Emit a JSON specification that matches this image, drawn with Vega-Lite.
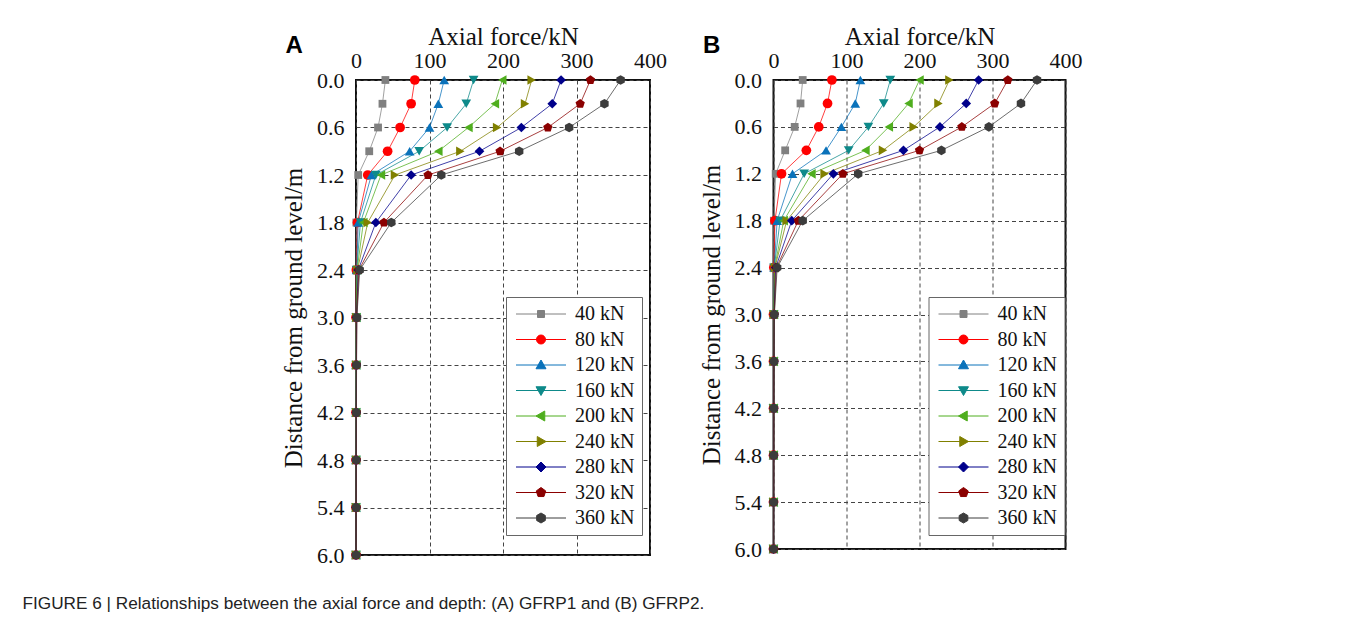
{
  "$schema": "https://vega.github.io/schema/vega-lite/v6.json",
  "padding": {"left": 22, "top": 23, "right": 0, "bottom": 0},
  "background": "white",
  "config": {
    "view": {"stroke": "#111", "strokeWidth": 2},
    "axis": {"labelFont": "Liberation Serif", "titleFont": "Liberation Serif", "labelFontSize": 22, "titleFontSize": 25, "titleFontWeight": "normal", "labelColor": "#111", "titleColor": "#111", "grid": true, "gridDash": [4, 3], "gridColor": "#444", "gridWidth": 1, "gridOpacity": 1, "domain": false, "ticks": false},
    "legend": {"labelFont": "Liberation Serif", "labelFontSize": 20, "labelColor": "#111"}
  },
  "title": {"text": "FIGURE 6 | Relationships between the axial force and depth: (A) GFRP1 and (B) GFRP2.", "orient": "bottom", "anchor": "start", "frame": "bounds", "dx": -258, "offset": 28, "font": "Liberation Sans", "fontSize": 17.2, "fontWeight": "normal", "color": "#222"},
  "data": {"values": [
    {"p":"A","s":"40 kN","d":0,"f":40},{"p":"A","s":"40 kN","d":0.3,"f":36},{"p":"A","s":"40 kN","d":0.6,"f":30},{"p":"A","s":"40 kN","d":0.9,"f":18},{"p":"A","s":"40 kN","d":1.2,"f":3},{"p":"A","s":"40 kN","d":1.8,"f":0.5},{"p":"A","s":"40 kN","d":2.4,"f":0},{"p":"A","s":"40 kN","d":3.0,"f":0},{"p":"A","s":"40 kN","d":3.6,"f":0},{"p":"A","s":"40 kN","d":4.2,"f":0},{"p":"A","s":"40 kN","d":4.8,"f":0},{"p":"A","s":"40 kN","d":5.4,"f":0},{"p":"A","s":"40 kN","d":6.0,"f":0},
    {"p":"A","s":"80 kN","d":0,"f":80},{"p":"A","s":"80 kN","d":0.3,"f":75},{"p":"A","s":"80 kN","d":0.6,"f":60},{"p":"A","s":"80 kN","d":0.9,"f":43},{"p":"A","s":"80 kN","d":1.2,"f":16},{"p":"A","s":"80 kN","d":1.8,"f":2},{"p":"A","s":"80 kN","d":2.4,"f":0.5},{"p":"A","s":"80 kN","d":3.0,"f":0},{"p":"A","s":"80 kN","d":3.6,"f":0},{"p":"A","s":"80 kN","d":4.2,"f":0},{"p":"A","s":"80 kN","d":4.8,"f":0},{"p":"A","s":"80 kN","d":5.4,"f":0},{"p":"A","s":"80 kN","d":6.0,"f":0},
    {"p":"A","s":"120 kN","d":0,"f":120},{"p":"A","s":"120 kN","d":0.3,"f":112},{"p":"A","s":"120 kN","d":0.6,"f":100},{"p":"A","s":"120 kN","d":0.9,"f":73},{"p":"A","s":"120 kN","d":1.2,"f":21},{"p":"A","s":"120 kN","d":1.8,"f":3},{"p":"A","s":"120 kN","d":2.4,"f":1},{"p":"A","s":"120 kN","d":3.0,"f":0.3},{"p":"A","s":"120 kN","d":3.6,"f":0},{"p":"A","s":"120 kN","d":4.2,"f":0},{"p":"A","s":"120 kN","d":4.8,"f":0},{"p":"A","s":"120 kN","d":5.4,"f":0},{"p":"A","s":"120 kN","d":6.0,"f":0},
    {"p":"A","s":"160 kN","d":0,"f":160},{"p":"A","s":"160 kN","d":0.3,"f":150},{"p":"A","s":"160 kN","d":0.6,"f":124},{"p":"A","s":"160 kN","d":0.9,"f":86},{"p":"A","s":"160 kN","d":1.2,"f":27},{"p":"A","s":"160 kN","d":1.8,"f":6},{"p":"A","s":"160 kN","d":2.4,"f":1},{"p":"A","s":"160 kN","d":3.0,"f":0.3},{"p":"A","s":"160 kN","d":3.6,"f":0.2},{"p":"A","s":"160 kN","d":4.2,"f":0},{"p":"A","s":"160 kN","d":4.8,"f":0},{"p":"A","s":"160 kN","d":5.4,"f":0},{"p":"A","s":"160 kN","d":6.0,"f":0},
    {"p":"A","s":"200 kN","d":0,"f":199},{"p":"A","s":"200 kN","d":0.3,"f":189},{"p":"A","s":"200 kN","d":0.6,"f":153},{"p":"A","s":"200 kN","d":0.9,"f":112},{"p":"A","s":"200 kN","d":1.2,"f":34},{"p":"A","s":"200 kN","d":1.8,"f":10},{"p":"A","s":"200 kN","d":2.4,"f":1.5},{"p":"A","s":"200 kN","d":3.0,"f":0.5},{"p":"A","s":"200 kN","d":3.6,"f":0.3},{"p":"A","s":"200 kN","d":4.2,"f":0.2},{"p":"A","s":"200 kN","d":4.8,"f":0},{"p":"A","s":"200 kN","d":5.4,"f":0},{"p":"A","s":"200 kN","d":6.0,"f":0},
    {"p":"A","s":"240 kN","d":0,"f":239},{"p":"A","s":"240 kN","d":0.3,"f":230},{"p":"A","s":"240 kN","d":0.6,"f":192},{"p":"A","s":"240 kN","d":0.9,"f":142},{"p":"A","s":"240 kN","d":1.2,"f":53},{"p":"A","s":"240 kN","d":1.8,"f":16},{"p":"A","s":"240 kN","d":2.4,"f":2},{"p":"A","s":"240 kN","d":3.0,"f":0.5},{"p":"A","s":"240 kN","d":3.6,"f":0.3},{"p":"A","s":"240 kN","d":4.2,"f":0.2},{"p":"A","s":"240 kN","d":4.8,"f":0.2},{"p":"A","s":"240 kN","d":5.4,"f":0},{"p":"A","s":"240 kN","d":6.0,"f":0},
    {"p":"A","s":"280 kN","d":0,"f":279},{"p":"A","s":"280 kN","d":0.3,"f":267},{"p":"A","s":"280 kN","d":0.6,"f":225},{"p":"A","s":"280 kN","d":0.9,"f":168},{"p":"A","s":"280 kN","d":1.2,"f":75},{"p":"A","s":"280 kN","d":1.8,"f":27},{"p":"A","s":"280 kN","d":2.4,"f":3},{"p":"A","s":"280 kN","d":3.0,"f":0.8},{"p":"A","s":"280 kN","d":3.6,"f":0.5},{"p":"A","s":"280 kN","d":4.2,"f":0.3},{"p":"A","s":"280 kN","d":4.8,"f":0.2},{"p":"A","s":"280 kN","d":5.4,"f":0.1},{"p":"A","s":"280 kN","d":6.0,"f":0},
    {"p":"A","s":"320 kN","d":0,"f":319},{"p":"A","s":"320 kN","d":0.3,"f":305},{"p":"A","s":"320 kN","d":0.6,"f":261},{"p":"A","s":"320 kN","d":0.9,"f":196},{"p":"A","s":"320 kN","d":1.2,"f":98},{"p":"A","s":"320 kN","d":1.8,"f":38},{"p":"A","s":"320 kN","d":2.4,"f":4},{"p":"A","s":"320 kN","d":3.0,"f":1},{"p":"A","s":"320 kN","d":3.6,"f":0.6},{"p":"A","s":"320 kN","d":4.2,"f":0.4},{"p":"A","s":"320 kN","d":4.8,"f":0.3},{"p":"A","s":"320 kN","d":5.4,"f":0.2},{"p":"A","s":"320 kN","d":6.0,"f":0.1},
    {"p":"A","s":"360 kN","d":0,"f":360},{"p":"A","s":"360 kN","d":0.3,"f":338},{"p":"A","s":"360 kN","d":0.6,"f":290},{"p":"A","s":"360 kN","d":0.9,"f":222},{"p":"A","s":"360 kN","d":1.2,"f":116},{"p":"A","s":"360 kN","d":1.8,"f":48},{"p":"A","s":"360 kN","d":2.4,"f":5},{"p":"A","s":"360 kN","d":3.0,"f":1.2},{"p":"A","s":"360 kN","d":3.6,"f":0.8},{"p":"A","s":"360 kN","d":4.2,"f":0.5},{"p":"A","s":"360 kN","d":4.8,"f":0.3},{"p":"A","s":"360 kN","d":5.4,"f":0.2},{"p":"A","s":"360 kN","d":6.0,"f":0.1},
    {"p":"B","s":"40 kN","d":0,"f":40},{"p":"B","s":"40 kN","d":0.3,"f":37},{"p":"B","s":"40 kN","d":0.6,"f":29},{"p":"B","s":"40 kN","d":0.9,"f":16},{"p":"B","s":"40 kN","d":1.2,"f":3},{"p":"B","s":"40 kN","d":1.8,"f":0.5},{"p":"B","s":"40 kN","d":2.4,"f":0},{"p":"B","s":"40 kN","d":3.0,"f":0},{"p":"B","s":"40 kN","d":3.6,"f":0},{"p":"B","s":"40 kN","d":4.2,"f":0},{"p":"B","s":"40 kN","d":4.8,"f":0},{"p":"B","s":"40 kN","d":5.4,"f":0},{"p":"B","s":"40 kN","d":6.0,"f":0},
    {"p":"B","s":"80 kN","d":0,"f":80},{"p":"B","s":"80 kN","d":0.3,"f":74},{"p":"B","s":"80 kN","d":0.6,"f":62},{"p":"B","s":"80 kN","d":0.9,"f":45},{"p":"B","s":"80 kN","d":1.2,"f":11},{"p":"B","s":"80 kN","d":1.8,"f":2},{"p":"B","s":"80 kN","d":2.4,"f":0.5},{"p":"B","s":"80 kN","d":3.0,"f":0},{"p":"B","s":"80 kN","d":3.6,"f":0},{"p":"B","s":"80 kN","d":4.2,"f":0},{"p":"B","s":"80 kN","d":4.8,"f":0},{"p":"B","s":"80 kN","d":5.4,"f":0},{"p":"B","s":"80 kN","d":6.0,"f":0},
    {"p":"B","s":"120 kN","d":0,"f":119},{"p":"B","s":"120 kN","d":0.3,"f":112},{"p":"B","s":"120 kN","d":0.6,"f":93},{"p":"B","s":"120 kN","d":0.9,"f":72},{"p":"B","s":"120 kN","d":1.2,"f":26},{"p":"B","s":"120 kN","d":1.8,"f":5},{"p":"B","s":"120 kN","d":2.4,"f":1},{"p":"B","s":"120 kN","d":3.0,"f":0.3},{"p":"B","s":"120 kN","d":3.6,"f":0},{"p":"B","s":"120 kN","d":4.2,"f":0},{"p":"B","s":"120 kN","d":4.8,"f":0},{"p":"B","s":"120 kN","d":5.4,"f":0},{"p":"B","s":"120 kN","d":6.0,"f":0},
    {"p":"B","s":"160 kN","d":0,"f":160},{"p":"B","s":"160 kN","d":0.3,"f":151},{"p":"B","s":"160 kN","d":0.6,"f":130},{"p":"B","s":"160 kN","d":0.9,"f":103},{"p":"B","s":"160 kN","d":1.2,"f":42},{"p":"B","s":"160 kN","d":1.8,"f":9},{"p":"B","s":"160 kN","d":2.4,"f":1},{"p":"B","s":"160 kN","d":3.0,"f":0.3},{"p":"B","s":"160 kN","d":3.6,"f":0.2},{"p":"B","s":"160 kN","d":4.2,"f":0},{"p":"B","s":"160 kN","d":4.8,"f":0},{"p":"B","s":"160 kN","d":5.4,"f":0},{"p":"B","s":"160 kN","d":6.0,"f":0},
    {"p":"B","s":"200 kN","d":0,"f":200},{"p":"B","s":"200 kN","d":0.3,"f":185},{"p":"B","s":"200 kN","d":0.6,"f":158},{"p":"B","s":"200 kN","d":0.9,"f":126},{"p":"B","s":"200 kN","d":1.2,"f":52},{"p":"B","s":"200 kN","d":1.8,"f":14},{"p":"B","s":"200 kN","d":2.4,"f":1.5},{"p":"B","s":"200 kN","d":3.0,"f":0.5},{"p":"B","s":"200 kN","d":3.6,"f":0.3},{"p":"B","s":"200 kN","d":4.2,"f":0.2},{"p":"B","s":"200 kN","d":4.8,"f":0},{"p":"B","s":"200 kN","d":5.4,"f":0},{"p":"B","s":"200 kN","d":6.0,"f":0},
    {"p":"B","s":"240 kN","d":0,"f":241},{"p":"B","s":"240 kN","d":0.3,"f":226},{"p":"B","s":"240 kN","d":0.6,"f":192},{"p":"B","s":"240 kN","d":0.9,"f":150},{"p":"B","s":"240 kN","d":1.2,"f":70},{"p":"B","s":"240 kN","d":1.8,"f":18},{"p":"B","s":"240 kN","d":2.4,"f":2},{"p":"B","s":"240 kN","d":3.0,"f":0.5},{"p":"B","s":"240 kN","d":3.6,"f":0.3},{"p":"B","s":"240 kN","d":4.2,"f":0.2},{"p":"B","s":"240 kN","d":4.8,"f":0.2},{"p":"B","s":"240 kN","d":5.4,"f":0},{"p":"B","s":"240 kN","d":6.0,"f":0},
    {"p":"B","s":"280 kN","d":0,"f":281},{"p":"B","s":"280 kN","d":0.3,"f":264},{"p":"B","s":"280 kN","d":0.6,"f":228},{"p":"B","s":"280 kN","d":0.9,"f":178},{"p":"B","s":"280 kN","d":1.2,"f":82},{"p":"B","s":"280 kN","d":1.8,"f":25},{"p":"B","s":"280 kN","d":2.4,"f":3},{"p":"B","s":"280 kN","d":3.0,"f":0.8},{"p":"B","s":"280 kN","d":3.6,"f":0.5},{"p":"B","s":"280 kN","d":4.2,"f":0.3},{"p":"B","s":"280 kN","d":4.8,"f":0.2},{"p":"B","s":"280 kN","d":5.4,"f":0.1},{"p":"B","s":"280 kN","d":6.0,"f":0},
    {"p":"B","s":"320 kN","d":0,"f":321},{"p":"B","s":"320 kN","d":0.3,"f":303},{"p":"B","s":"320 kN","d":0.6,"f":258},{"p":"B","s":"320 kN","d":0.9,"f":200},{"p":"B","s":"320 kN","d":1.2,"f":95},{"p":"B","s":"320 kN","d":1.8,"f":34},{"p":"B","s":"320 kN","d":2.4,"f":4},{"p":"B","s":"320 kN","d":3.0,"f":1},{"p":"B","s":"320 kN","d":3.6,"f":0.6},{"p":"B","s":"320 kN","d":4.2,"f":0.4},{"p":"B","s":"320 kN","d":4.8,"f":0.3},{"p":"B","s":"320 kN","d":5.4,"f":0.2},{"p":"B","s":"320 kN","d":6.0,"f":0.1},
    {"p":"B","s":"360 kN","d":0,"f":361},{"p":"B","s":"360 kN","d":0.3,"f":339},{"p":"B","s":"360 kN","d":0.6,"f":295},{"p":"B","s":"360 kN","d":0.9,"f":230},{"p":"B","s":"360 kN","d":1.2,"f":116},{"p":"B","s":"360 kN","d":1.8,"f":40},{"p":"B","s":"360 kN","d":2.4,"f":5},{"p":"B","s":"360 kN","d":3.0,"f":1.2},{"p":"B","s":"360 kN","d":3.6,"f":0.8},{"p":"B","s":"360 kN","d":4.2,"f":0.5},{"p":"B","s":"360 kN","d":4.8,"f":0.3},{"p":"B","s":"360 kN","d":5.4,"f":0.2},{"p":"B","s":"360 kN","d":6.0,"f":0.1}
  ]},
  "spacing": 29.5,
  "resolve": {
    "scale": {"color": "independent", "shape": "independent", "fill": "independent", "stroke": "independent"},
    "legend": {"color": "independent", "shape": "independent", "fill": "independent", "stroke": "independent"}
  },
  "hconcat": [
    {
      "width": 294, "height": 475,
      "title": {"text": "A", "anchor": "start", "frame": "bounds", "offset": 0, "dy": 34, "dx": 4, "font": "Liberation Sans", "fontSize": 24, "fontWeight": "bold", "color": "#000"},
      "transform": [{"filter": "datum.p === 'A'"}],
      "encoding": {
        "x": {"field": "f", "type": "quantitative", "scale": {"domain": [0, 400], "nice": false}, "axis": {"orient": "top", "title": "Axial force/kN", "values": [0, 100, 200, 300, 400], "labelFlush": false, "labelPadding": 8, "titlePadding": 0}},
        "y": {"field": "d", "type": "quantitative", "scale": {"domain": [0, 6], "reverse": true, "nice": false}, "axis": {"title": "Distance from ground level/m", "values": [0, 0.6, 1.2, 1.8, 2.4, 3.0, 3.6, 4.2, 4.8, 5.4, 6.0], "format": ".1f", "labelPadding": 12, "titlePadding": 10}}
      },
      "layer": [
        {"mark": {"type": "line", "strokeWidth": 1, "opacity": 0.75},
         "encoding": {
           "color": {"field": "s", "type": "nominal", "scale": {"domain": ["40 kN","80 kN","120 kN","160 kN","200 kN","240 kN","280 kN","320 kN","360 kN"], "range": ["#808080","#ff0000","#0a72ba","#0e8a8a","#4fae1e","#808000","#00008b","#8b0000","#3c3c3c"]}, "legend": null},
           "order": {"field": "d", "type": "quantitative"}
         }},
        {"mark": {"type": "point", "filled": true, "size": 95, "opacity": 1},
         "encoding": {
           "color": {"field": "s", "type": "nominal", "scale": {"domain": ["40 kN","80 kN","120 kN","160 kN","200 kN","240 kN","280 kN","320 kN","360 kN"], "range": ["#808080","#ff0000","#0a72ba","#0e8a8a","#4fae1e","#808000","#00008b","#8b0000","#3c3c3c"]}, "legend": null},
           "shape": {"field": "s", "type": "nominal", "scale": {"domain": ["40 kN","80 kN","120 kN","160 kN","200 kN","240 kN","280 kN","320 kN","360 kN"], "range": ["M-0.8,-0.8H0.8V0.8H-0.8Z","circle","triangle-up","triangle-down","triangle-left","triangle-right","diamond","M0,-1L0.951,-0.309L0.588,0.809L-0.588,0.809L-0.951,-0.309Z","M0,-1L0.866,-0.5L0.866,0.5L0,1L-0.866,0.5L-0.866,-0.5Z"]}, "legend": null}
         }},
        {"transform": [{"filter": "datum.d === 0"}],
         "mark": {"type": "point", "filled": true, "size": 100, "opacity": 0},
         "encoding": {
           "fill": {"field": "s", "type": "nominal", "scale": {"domain": ["40 kN","80 kN","120 kN","160 kN","200 kN","240 kN","280 kN","320 kN","360 kN"], "range": ["#808080","#ff0000","#0a72ba","#0e8a8a","#4fae1e","#808000","#00008b","#8b0000","#3c3c3c"]}, "legend": {"orient": "none", "legendX": 150, "legendY": 217, "title": null, "symbolSize": 100, "symbolOpacity": 1, "symbolStrokeWidth": 1, "labelOffset": 42, "rowPadding": 5.5, "padding": 7, "strokeColor": "#666", "fillColor": "white"}},
           "stroke": {"field": "s", "type": "nominal", "scale": {"domain": ["40 kN","80 kN","120 kN","160 kN","200 kN","240 kN","280 kN","320 kN","360 kN"], "range": ["#808080","#ff0000","#0a72ba","#0e8a8a","#4fae1e","#808000","#00008b","#8b0000","#3c3c3c"]}, "legend": {"orient": "none", "legendX": 150, "legendY": 217, "title": null, "symbolSize": 100, "symbolOpacity": 1, "symbolStrokeWidth": 1, "labelOffset": 42, "rowPadding": 5.5, "padding": 7, "strokeColor": "#666", "fillColor": "white"}},
           "shape": {"field": "s", "type": "nominal", "scale": {"domain": ["40 kN","80 kN","120 kN","160 kN","200 kN","240 kN","280 kN","320 kN","360 kN"], "range": ["M-1.4,0H8.6M2.9,-0.7H4.3V0.7H2.9Z","M-1.4,0H8.6M2.7,0A0.9,0.9,0,1,0,4.5,0A0.9,0.9,0,1,0,2.7,0Z","M-1.4,0H8.6M3.6,-1L4.6,0.75L2.6,0.75Z","M-1.4,0H8.6M3.6,1L4.6,-0.75L2.6,-0.75Z","M-1.4,0H8.6M2.6,0L4.35,-1L4.35,1Z","M-1.4,0H8.6M4.6,0L2.85,-1L2.85,1Z","M-1.4,0H8.6M3.6,-1L4.6,0L3.6,1L2.6,0Z","M-1.4,0H8.6M3.6,-1L4.551,-0.309L4.188,0.809L3.012,0.809L2.649,-0.309Z","M-1.4,0H8.6M3.6,-1L4.466,-0.5L4.466,0.5L3.6,1L2.734,0.5L2.734,-0.5Z"]}, "legend": {"orient": "none", "legendX": 150, "legendY": 217, "title": null, "symbolSize": 100, "symbolOpacity": 1, "symbolStrokeWidth": 1, "labelOffset": 42, "rowPadding": 5.5, "padding": 7, "strokeColor": "#666", "fillColor": "white"}}
         }}
      ],
      "resolve": {
        "scale": {"shape": "independent", "fill": "independent", "stroke": "independent"},
        "legend": {"shape": "independent", "fill": "independent", "stroke": "independent"}
      }
    },
    {
      "width": 292, "height": 469,
      "title": {"text": "B", "anchor": "start", "frame": "bounds", "offset": 0, "dy": 34, "dx": 4, "font": "Liberation Sans", "fontSize": 24, "fontWeight": "bold", "color": "#000"},
      "transform": [{"filter": "datum.p === 'B'"}],
      "encoding": {
        "x": {"field": "f", "type": "quantitative", "scale": {"domain": [0, 400], "nice": false}, "axis": {"orient": "top", "title": "Axial force/kN", "values": [0, 100, 200, 300, 400], "labelFlush": false, "labelPadding": 8, "titlePadding": 0}},
        "y": {"field": "d", "type": "quantitative", "scale": {"domain": [0, 6], "reverse": true, "nice": false}, "axis": {"title": "Distance from ground level/m", "values": [0, 0.6, 1.2, 1.8, 2.4, 3.0, 3.6, 4.2, 4.8, 5.4, 6.0], "format": ".1f", "labelPadding": 12, "titlePadding": 10}}
      },
      "layer": [
        {"mark": {"type": "line", "strokeWidth": 1, "opacity": 0.75},
         "encoding": {
           "color": {"field": "s", "type": "nominal", "scale": {"domain": ["40 kN","80 kN","120 kN","160 kN","200 kN","240 kN","280 kN","320 kN","360 kN"], "range": ["#808080","#ff0000","#0a72ba","#0e8a8a","#4fae1e","#808000","#00008b","#8b0000","#3c3c3c"]}, "legend": null},
           "order": {"field": "d", "type": "quantitative"}
         }},
        {"mark": {"type": "point", "filled": true, "size": 95, "opacity": 1},
         "encoding": {
           "color": {"field": "s", "type": "nominal", "scale": {"domain": ["40 kN","80 kN","120 kN","160 kN","200 kN","240 kN","280 kN","320 kN","360 kN"], "range": ["#808080","#ff0000","#0a72ba","#0e8a8a","#4fae1e","#808000","#00008b","#8b0000","#3c3c3c"]}, "legend": null},
           "shape": {"field": "s", "type": "nominal", "scale": {"domain": ["40 kN","80 kN","120 kN","160 kN","200 kN","240 kN","280 kN","320 kN","360 kN"], "range": ["M-0.8,-0.8H0.8V0.8H-0.8Z","circle","triangle-up","triangle-down","triangle-left","triangle-right","diamond","M0,-1L0.951,-0.309L0.588,0.809L-0.588,0.809L-0.951,-0.309Z","M0,-1L0.866,-0.5L0.866,0.5L0,1L-0.866,0.5L-0.866,-0.5Z"]}, "legend": null}
         }},
        {"transform": [{"filter": "datum.d === 0"}],
         "mark": {"type": "point", "filled": true, "size": 100, "opacity": 0},
         "encoding": {
           "fill": {"field": "s", "type": "nominal", "scale": {"domain": ["40 kN","80 kN","120 kN","160 kN","200 kN","240 kN","280 kN","320 kN","360 kN"], "range": ["#808080","#ff0000","#0a72ba","#0e8a8a","#4fae1e","#808000","#00008b","#8b0000","#3c3c3c"]}, "legend": {"orient": "none", "legendX": 155, "legendY": 217, "title": null, "symbolSize": 100, "symbolOpacity": 1, "symbolStrokeWidth": 1, "labelOffset": 42, "rowPadding": 5.5, "padding": 7, "strokeColor": "#666", "fillColor": "white"}},
           "stroke": {"field": "s", "type": "nominal", "scale": {"domain": ["40 kN","80 kN","120 kN","160 kN","200 kN","240 kN","280 kN","320 kN","360 kN"], "range": ["#808080","#ff0000","#0a72ba","#0e8a8a","#4fae1e","#808000","#00008b","#8b0000","#3c3c3c"]}, "legend": {"orient": "none", "legendX": 155, "legendY": 217, "title": null, "symbolSize": 100, "symbolOpacity": 1, "symbolStrokeWidth": 1, "labelOffset": 42, "rowPadding": 5.5, "padding": 7, "strokeColor": "#666", "fillColor": "white"}},
           "shape": {"field": "s", "type": "nominal", "scale": {"domain": ["40 kN","80 kN","120 kN","160 kN","200 kN","240 kN","280 kN","320 kN","360 kN"], "range": ["M-1.4,0H8.6M2.9,-0.7H4.3V0.7H2.9Z","M-1.4,0H8.6M2.7,0A0.9,0.9,0,1,0,4.5,0A0.9,0.9,0,1,0,2.7,0Z","M-1.4,0H8.6M3.6,-1L4.6,0.75L2.6,0.75Z","M-1.4,0H8.6M3.6,1L4.6,-0.75L2.6,-0.75Z","M-1.4,0H8.6M2.6,0L4.35,-1L4.35,1Z","M-1.4,0H8.6M4.6,0L2.85,-1L2.85,1Z","M-1.4,0H8.6M3.6,-1L4.6,0L3.6,1L2.6,0Z","M-1.4,0H8.6M3.6,-1L4.551,-0.309L4.188,0.809L3.012,0.809L2.649,-0.309Z","M-1.4,0H8.6M3.6,-1L4.466,-0.5L4.466,0.5L3.6,1L2.734,0.5L2.734,-0.5Z"]}, "legend": {"orient": "none", "legendX": 155, "legendY": 217, "title": null, "symbolSize": 100, "symbolOpacity": 1, "symbolStrokeWidth": 1, "labelOffset": 42, "rowPadding": 5.5, "padding": 7, "strokeColor": "#666", "fillColor": "white"}}
         }}
      ],
      "resolve": {
        "scale": {"shape": "independent", "fill": "independent", "stroke": "independent"},
        "legend": {"shape": "independent", "fill": "independent", "stroke": "independent"}
      }
    }
  ]
}
